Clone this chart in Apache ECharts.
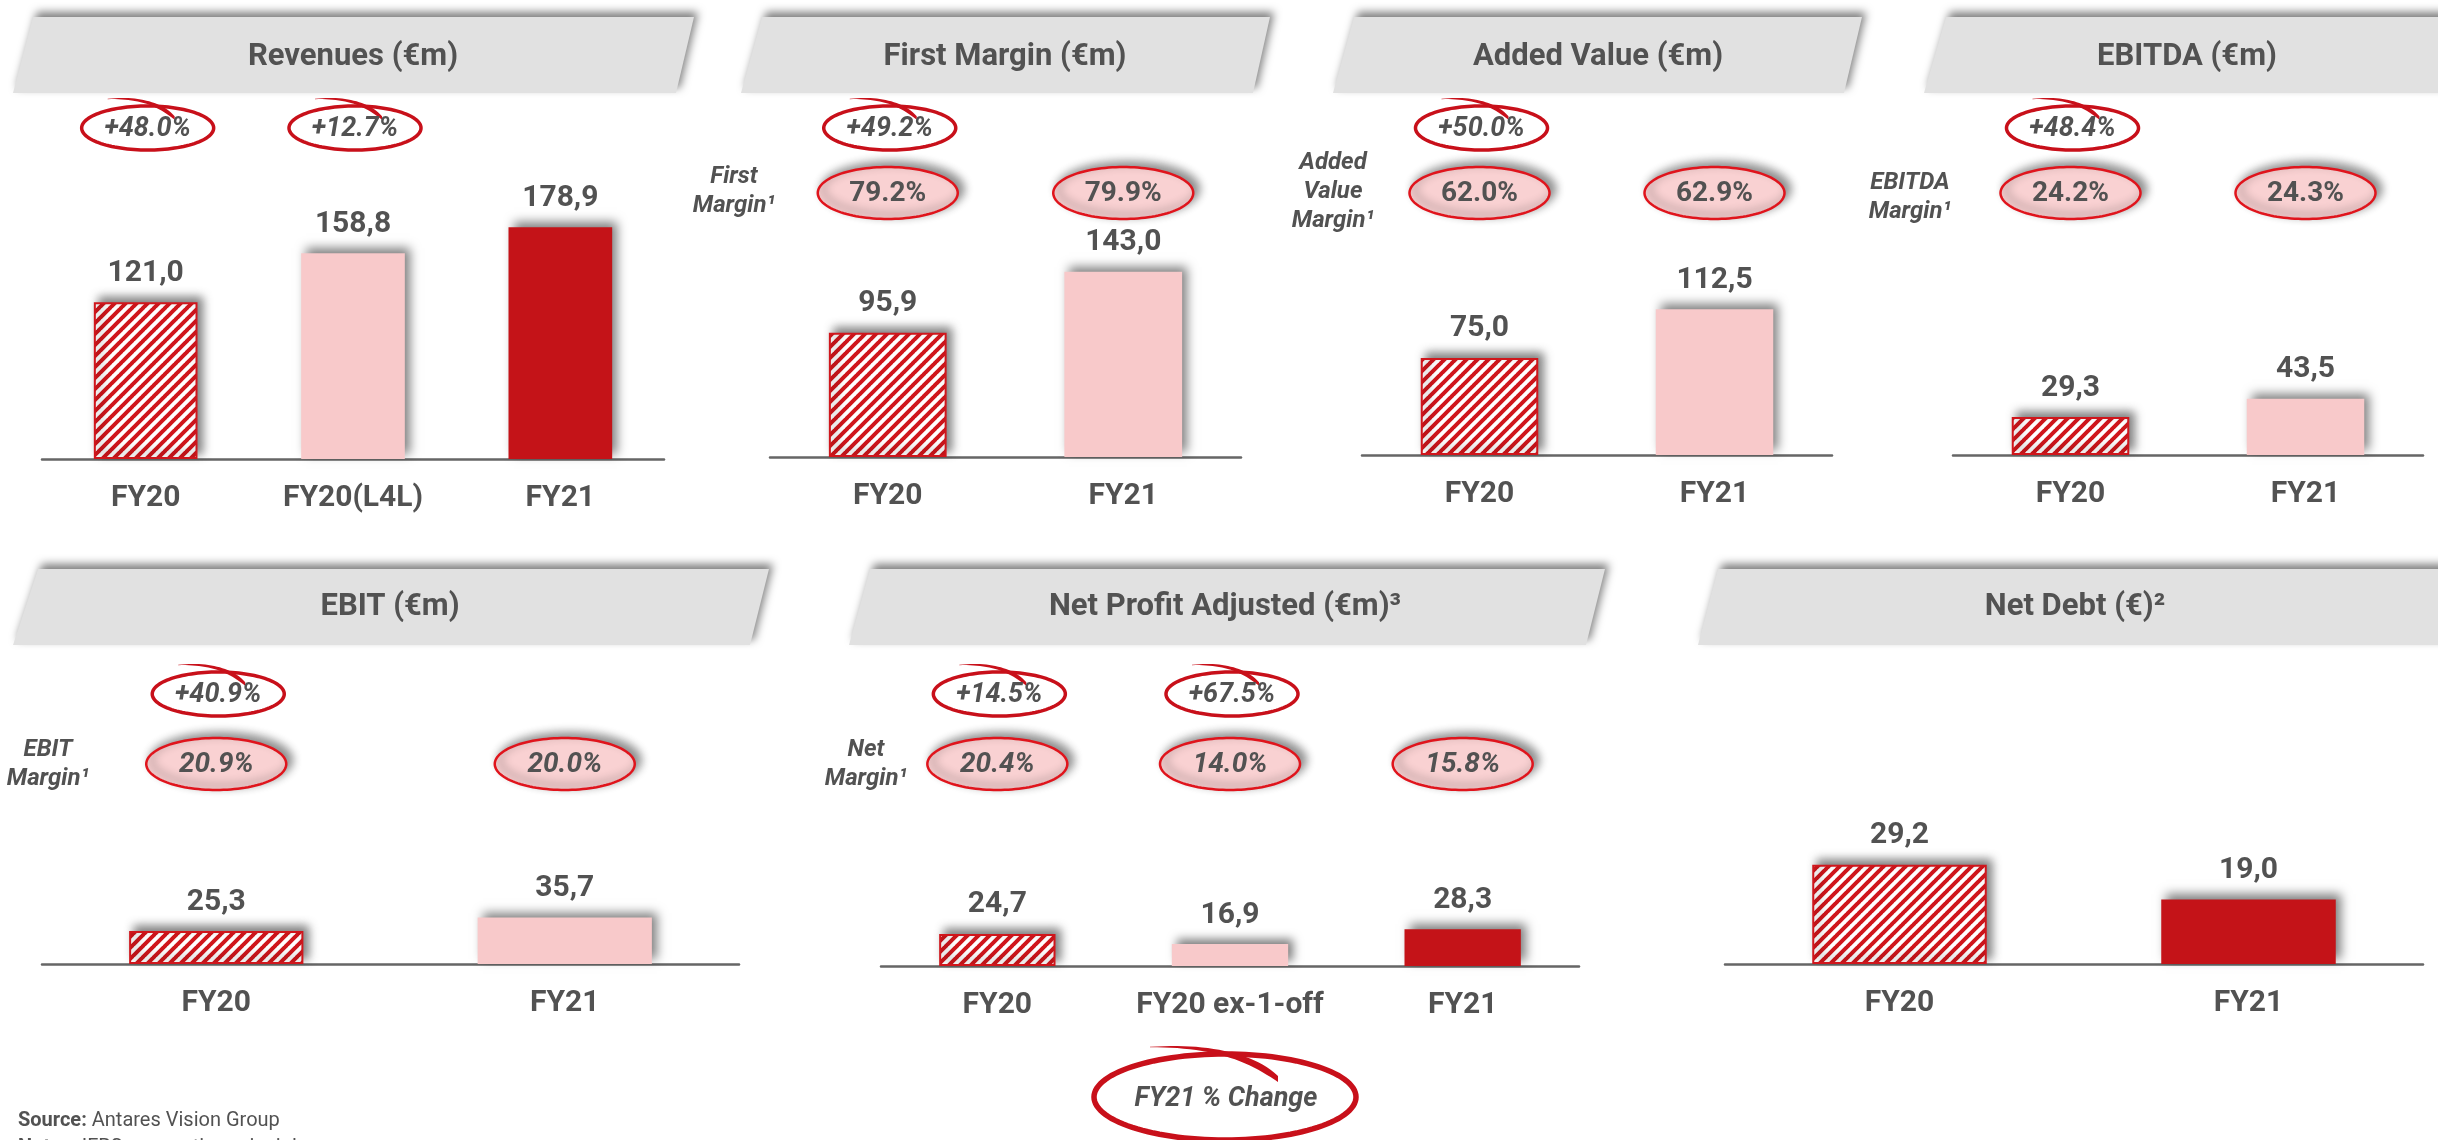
<!DOCTYPE html>
<html>
<head>
<meta charset="utf-8">
<script src="https://cdn.jsdelivr.net/npm/echarts@6/dist/echarts.min.js"></script>
<style>
  html, body { margin: 0; padding: 0; background: #ffffff; }
  #c { width: 2438px; height: 1140px; }
</style>
</head>
<body>
<div id="c"></div>
<script>
// ---- Data ----
const revenueCats = ['FY20', 'FY20(L4L)', 'FY21'];
const revenueValues = [121.0, 158.8, 178.9];
const revenueChange = ['+48.0%', '+12.7%'];

const firstMarginCats = ['FY20', 'FY21'];
const firstMarginValues = [95.9, 143.0];
const firstMarginChange = ['+49.2%'];
const firstMarginPct = ['79.2%', '79.9%'];

const addedValueCats = ['FY20', 'FY21'];
const addedValueValues = [75.0, 112.5];
const addedValueChange = ['+50.0%'];
const addedValuePct = ['62.0%', '62.9%'];

const ebitdaCats = ['FY20', 'FY21'];
const ebitdaValues = [29.3, 43.5];
const ebitdaChange = ['+48.4%'];
const ebitdaPct = ['24.2%', '24.3%'];

const ebitCats = ['FY20', 'FY21'];
const ebitValues = [25.3, 35.7];
const ebitChange = ['+40.9%'];
const ebitPct = ['20.9%', '20.0%'];

const netProfitCats = ['FY20', 'FY20 ex-1-off', 'FY21'];
const netProfitValues = [24.7, 16.9, 28.3];
const netProfitChange = ['+14.5%', '+67.5%'];
const netProfitPct = ['20.4%', '14.0%', '15.8%'];

const netDebtCats = ['FY20', 'FY21'];
const netDebtValues = [29.2, 19.0];

// ---- Styling ----
const TXT = '#525252';
const RED = '#c41318';
const PINK = '#f8c9ca';
const STRIPE = '#d0161c';
const BUBBLE_RED = '#c8101a';
const FONT = 'Roboto';

function makeHatch() {
  const s = 11;
  const c = document.createElement('canvas');
  c.width = s; c.height = s;
  const g = c.getContext('2d');
  g.fillStyle = '#ffffff';
  g.fillRect(0, 0, s, s);
  g.strokeStyle = STRIPE;
  g.lineWidth = 4;
  g.beginPath();
  [-s, 0, s].forEach(k => { g.moveTo(k - 1, s + 1); g.lineTo(k + s + 1, -1); });
  g.stroke();
  return c;
}
const hatchTile = makeHatch();

const barShadow = { shadowBlur: 10, shadowColor: 'rgba(0,0,0,0.5)', shadowOffsetX: 5, shadowOffsetY: -5 };
function barStyle(kind) {
  if (kind === 'hatch') return Object.assign({ color: { image: hatchTile, repeat: 'repeat' }, borderColor: STRIPE, borderWidth: 2 }, barShadow);
  if (kind === 'pink') return Object.assign({ color: PINK }, barShadow);
  return Object.assign({ color: RED }, barShadow);
}
const fmt = v => v.toFixed(1).replace('.', ',');

// ---- Panel layout ----
const panels = [
  { title: 'Revenues (€m)', cats: revenueCats, values: revenueValues, fills: ['hatch', 'pink', 'red'],
    change: revenueChange, pct: null, label: null,
    box: { left: 42, width: 622, base: 459, h: 259, max: 200 },
    banner: [[33, 17], [694, 17], [676, 93], [13, 93]], titleAt: [353, 57], rows: [128, 193], italicPct: false },
  { title: 'First Margin (€m)', cats: firstMarginCats, values: firstMarginValues, fills: ['hatch', 'pink'],
    change: firstMarginChange, pct: firstMarginPct, label: { text: 'First\nMargin¹', at: [734, 191] },
    box: { left: 770, width: 471, base: 457, h: 259, max: 200 },
    banner: [[762, 17], [1270, 17], [1253, 93], [741, 93]], titleAt: [1005, 57], rows: [128, 193], italicPct: false },
  { title: 'Added Value (€m)', cats: addedValueCats, values: addedValueValues, fills: ['hatch', 'pink'],
    change: addedValueChange, pct: addedValuePct, label: { text: 'Added\nValue\nMargin¹', at: [1333, 192] },
    box: { left: 1362, width: 470, base: 455, h: 259, max: 200 },
    banner: [[1354, 17], [1862, 17], [1844, 93], [1333, 93]], titleAt: [1598, 57], rows: [128, 193], italicPct: false },
  { title: 'EBITDA (€m)', cats: ebitdaCats, values: ebitdaValues, fills: ['hatch', 'pink'],
    change: ebitdaChange, pct: ebitdaPct, label: { text: 'EBITDA\nMargin¹', at: [1910, 197] },
    box: { left: 1953, width: 470, base: 455, h: 259, max: 200 },
    banner: [[1946, 17], [2470, 17], [2452, 93], [1924, 93]], titleAt: [2187, 57], rows: [128, 193], italicPct: false },
  { title: 'EBIT (€m)', cats: ebitCats, values: ebitValues, fills: ['hatch', 'pink'],
    change: ebitChange, pct: ebitPct, label: { text: 'EBIT\nMargin¹', at: [48, 764] },
    box: { left: 42, width: 697, base: 964, h: 130, max: 100 },
    banner: [[38, 569], [769, 569], [750, 645], [13, 645]], titleAt: [390, 607], rows: [694, 764], italicPct: true },
  { title: 'Net Profit Adjusted (€m)³', cats: netProfitCats, values: netProfitValues, fills: ['hatch', 'pink', 'red'],
    change: netProfitChange, pct: netProfitPct, label: { text: 'Net\nMargin¹', at: [866, 764] },
    box: { left: 881, width: 698, base: 966, h: 130, max: 100 },
    banner: [[870, 569], [1605, 569], [1586, 645], [849, 645]], titleAt: [1225, 607], rows: [694, 764], italicPct: true },
  { title: 'Net Debt (€)²', cats: netDebtCats, values: netDebtValues, fills: ['hatch', 'red'],
    change: null, pct: null, label: null,
    box: { left: 1725, width: 698, base: 964, h: 136, max: 40 },
    banner: [[1718, 569], [2470, 569], [2452, 645], [1698, 645]], titleAt: [2075, 607], rows: [694, 764], italicPct: false }
];

const chart = echarts.init(document.getElementById('c'), null, { renderer: 'canvas' });

const grids = [], xAxes = [], yAxes = [], series = [];
panels.forEach((p, i) => {
  grids.push({ left: p.box.left, width: p.box.width, top: p.box.base - p.box.h, height: p.box.h,
               containLabel: false, outerBoundsMode: 'none' });
  xAxes.push({
    type: 'category', gridIndex: i, data: p.cats,
    axisTick: { show: false },
    axisLine: { lineStyle: { color: '#666666', width: 2.5 } },
    axisLabel: { interval: 0, margin: 24, color: TXT, fontFamily: FONT, fontWeight: 'bold', fontSize: 30 },
    splitLine: { show: false }
  });
  yAxes.push({ type: 'value', gridIndex: i, min: 0, max: p.box.max, show: false });
  series.push({
    type: 'bar', xAxisIndex: i, yAxisIndex: i, barWidth: '50%', silent: true,
    data: p.values.map((v, k) => ({ value: v, itemStyle: barStyle(p.fills[k]) })),
    label: { show: true, position: 'top', distance: 14, formatter: d => fmt(d.value),
             color: TXT, fontFamily: FONT, fontWeight: 'bold', fontSize: 30 }
  });
});

chart.setOption({ animation: false, backgroundColor: '#ffffff', grid: grids, xAxis: xAxes, yAxis: yAxes, series: series });

// ---- Annotation shapes ----
function ellipsePts(cx, cy, rx, ry) {
  const pts = [];
  for (let a = 0; a < 120; a++) {
    const t = a / 120 * Math.PI * 2;
    pts.push([cx + rx * Math.cos(t), cy + ry * Math.sin(t)]);
  }
  return pts;
}
function swooshPts(cx, cy, p0, p1, p2, w) {
  const outer = [], inner = [];
  const n = 24;
  for (let k = 0; k <= n; k++) {
    const t = k / n;
    const x = (1 - t) * (1 - t) * p0[0] + 2 * (1 - t) * t * p1[0] + t * t * p2[0];
    const y = (1 - t) * (1 - t) * p0[1] + 2 * (1 - t) * t * p1[1] + t * t * p2[1];
    const th = 0.3 + w * Math.pow(t, 0.9) * (t > 0.85 ? (1 - (t - 0.85) * 2.5) : 1);
    outer.push([cx + x, cy + y - th / 2]);
    inner.push([cx + x, cy + y + th / 2]);
  }
  return outer.concat(inner.reverse());
}
function changeBubble(cx, cy, text) {
  return [
    { type: 'polygon', z: 10, shape: { points: ellipsePts(cx, cy, 66, 22) },
      style: { fill: '#ffffff', stroke: BUBBLE_RED, lineWidth: 3.5 } },
    { type: 'polygon', z: 11, shape: { points: swooshPts(cx, cy, [-40, -29], [4, -32], [27, -10], 5.5) },
      style: { fill: BUBBLE_RED } },
    { type: 'text', z: 12, style: { text: text, x: cx, y: cy + 1, align: 'center', verticalAlign: 'middle',
      font: 'italic bold 27px ' + FONT, fill: TXT } }
  ];
}
function marginBubble(cx, cy, text, italic) {
  return [
    { type: 'polygon', z: 10, shape: { points: ellipsePts(cx, cy, 70, 26) },
      style: { fill: '#f9d1d2', stroke: '#e0141c', lineWidth: 2.5,
               shadowBlur: 10, shadowColor: 'rgba(0,0,0,0.45)', shadowOffsetX: 5, shadowOffsetY: -4 } },
    { type: 'text', z: 12, style: { text: text, x: cx, y: cy + 1, align: 'center', verticalAlign: 'middle',
      font: (italic ? 'italic ' : '') + 'bold 28px ' + FONT, fill: TXT } }
  ];
}

const gfx = [];
panels.forEach((p, i) => {
  gfx.push({ type: 'polygon', z: 1, shape: { points: p.banner },
             style: { fill: '#e1e1e1', shadowBlur: 8, shadowColor: 'rgba(0,0,0,0.5)', shadowOffsetX: 4, shadowOffsetY: -5 } });
  gfx.push({ type: 'text', z: 2, style: { text: p.title, x: p.titleAt[0], y: p.titleAt[1], align: 'center',
             verticalAlign: 'middle', font: 'bold 31px ' + FONT, fill: TXT } });
  const xs = p.cats.map((c, k) => chart.convertToPixel({ xAxisIndex: i }, k));
  (p.change || []).forEach((t, k) => gfx.push(...changeBubble(xs[k] + 2, p.rows[0], t)));
  (p.pct || []).forEach((t, k) => gfx.push(...marginBubble(xs[k], p.rows[1], t, p.italicPct)));
  if (p.label) {
    gfx.push({ type: 'text', z: 2, style: { text: p.label.text, x: p.label.at[0], y: p.label.at[1], align: 'center',
               verticalAlign: 'middle', font: 'italic bold 24px ' + FONT, lineHeight: 29, fill: TXT } });
  }
});

// Legend bubble for the percentage change markers
gfx.push({ type: 'polygon', z: 10, shape: { points: ellipsePts(1225, 1097, 131, 43) },
           style: { fill: '#ffffff', stroke: BUBBLE_RED, lineWidth: 5.5 } });
gfx.push({ type: 'polygon', z: 11, shape: { points: swooshPts(1225, 1097, [-75, -50], [10, -53], [53, -18], 9) },
           style: { fill: BUBBLE_RED } });
gfx.push({ type: 'text', z: 12, style: { text: 'FY21 % Change', x: 1226, y: 1099, align: 'center', verticalAlign: 'middle',
           font: 'italic bold 27px ' + FONT, fill: TXT } });

// Footnotes
gfx.push({ type: 'text', z: 2, style: { text: '{b|Source:} Antares Vision Group', x: 18, y: 1121, verticalAlign: 'middle',
           font: '20px ' + FONT, fill: TXT, rich: { b: { fontWeight: 'bold', fontSize: 20, fontFamily: FONT, fill: TXT } } } });
gfx.push({ type: 'text', z: 2, style: { text: '{b|Notes:} IFRS accounting principles', x: 18, y: 1148, verticalAlign: 'middle',
           font: '20px ' + FONT, fill: TXT, rich: { b: { fontWeight: 'bold', fontSize: 20, fontFamily: FONT, fill: TXT } } } });

chart.setOption({ graphic: { elements: gfx } });
</script>
</body>
</html>
